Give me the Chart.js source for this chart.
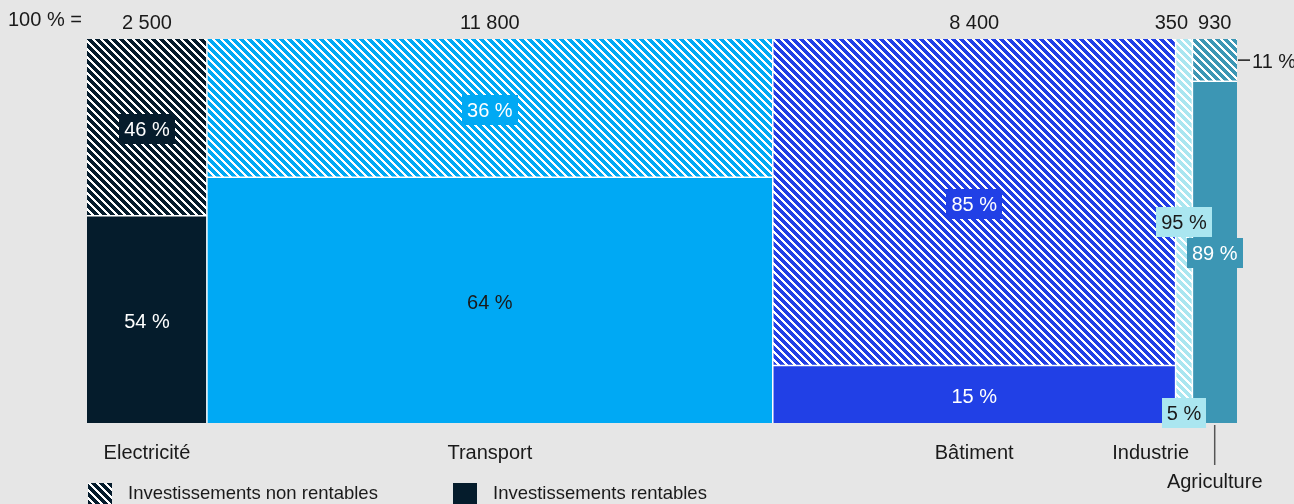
<!DOCTYPE html>
<html lang="fr">
<head>
<meta charset="utf-8">
<title>Investissements par secteur</title>
<script src="https://cdn.jsdelivr.net/npm/chart.js@4/dist/chart.umd.min.js"></script>
<style>
  body { margin: 0; background: #e6e6e6; }
  canvas { display: block; }
</style>
</head>
<body>
<canvas id="mekko" width="1294" height="504"></canvas>
<script>
// sectors, column widths (100 % = total) and split between profitable / non profitable
const sectors = ['Electricité', 'Transport', 'Bâtiment', 'Industrie', 'Agriculture'];
const totals = [2500, 11800, 8400, 350, 930];
const totalLabels = ['2 500', '11 800', '8 400', '350', '930'];
const rentables = [54, 64, 15, 5, 89];
const nonRentables = [46, 36, 85, 95, 11];
const colors = ['#051c2c', '#00a9f4', '#2140e6', '#aae6f0', '#3c96b4'];
const legendLabels = ['Investissements non rentables', 'Investissements rentables'];

const FONT = '20px "Liberation Sans", Arial, sans-serif';
const LEGEND_FONT = '18.5px "Liberation Sans", Arial, sans-serif';
const INK = '#1a1a1a';

const canvas = document.getElementById('mekko');
const ctx = canvas.getContext('2d');

// diagonal "\" stripes on white
function stripes(color) {
    const c = document.createElement('canvas');
    c.width = 8;
    c.height = 8;
    const g = c.getContext('2d');
    g.fillStyle = '#fff';
    g.fillRect(0, 0, 8, 8);
    g.fillStyle = color;
    for (let y = 0; y < 8; y++) {
        for (let x = 0; x < 8; x++) {
            if ((((x - y) % 8) + 8) % 8 < 5) g.fillRect(x, y, 1, 1);
        }
    }
    return ctx.createPattern(c, 'repeat');
}

// column start positions on the x scale
const starts = [];
let acc = 0;
totals.forEach(t => { starts.push(acc); acc += t; });
const grandTotal = acc;

function separator(points) {
    return {
        data: points,
        borderColor: '#ffffff',
        borderWidth: 1.5,
        fill: false
    };
}

const datasets = [];
// white separators first so they are drawn on top
for (let i = 1; i < totals.length; i++) {
    datasets.push(separator([{x: starts[i], y: 0}, {x: starts[i], y: 100}]));
}
sectors.forEach((s, i) => {
    const end = starts[i] + totals[i];
    datasets.push(separator([{x: starts[i], y: rentables[i]}, {x: end, y: rentables[i]}]));
});
sectors.forEach((s, i) => {
    const end = starts[i] + totals[i];
    datasets.push({
        label: s + ' rentables',
        data: [{x: starts[i], y: rentables[i]}, {x: end, y: rentables[i]}],
        fill: {value: 0},
        backgroundColor: colors[i],
        borderColor: 'transparent',
        borderWidth: 0
    });
    datasets.push({
        label: s + ' non rentables',
        data: [{x: starts[i], y: rentables[i] + nonRentables[i]}, {x: end, y: rentables[i] + nonRentables[i]}],
        fill: {value: rentables[i]},
        backgroundColor: stripes(colors[i]),
        borderColor: 'transparent',
        borderWidth: 0
    });
});

function textBox(c, text, x, y, bg, fg) {
    c.font = FONT;
    c.textAlign = 'center';
    c.textBaseline = 'middle';
    const w = c.measureText(text).width + 10;
    if (bg) {
        c.fillStyle = bg;
        c.fillRect(Math.round(x - w / 2), Math.round(y - 15), Math.round(w), 30);
    }
    c.fillStyle = fg;
    c.fillText(text, x, y + 1);
}

const background = {
    id: 'background',
    beforeDraw(chart) {
        const c = chart.ctx;
        c.save();
        c.fillStyle = '#e6e6e6';
        c.fillRect(0, 0, chart.width, chart.height);
        c.restore();
    }
};

const annotations = {
    id: 'annotations',
    afterDatasetsDraw(chart) {
        const c = chart.ctx;
        const xs = chart.scales.x;
        const ys = chart.scales.y;
        const area = chart.chartArea;
        c.save();
        c.font = FONT;
        c.textBaseline = 'middle';

        c.fillStyle = INK;
        c.textAlign = 'left';
        c.fillText('100 % =', 8, 20);

        sectors.forEach((s, i) => {
            const cx = xs.getPixelForValue(starts[i] + totals[i] / 2);
            const narrow = totals[i] / grandTotal < 0.02;
            const yTop = ys.getPixelForValue(rentables[i] + nonRentables[i] / 2);
            const yBottom = ys.getPixelForValue(rentables[i] / 2);
            const top = nonRentables[i] + ' %';
            const bottom = rentables[i] + ' %';

            // column totals
            c.fillStyle = INK;
            c.textBaseline = 'middle';
            if (narrow) {
                c.textAlign = 'right';
                c.fillText(totalLabels[i], cx + 4, area.top - 16);
            } else {
                c.textAlign = 'center';
                c.fillText(totalLabels[i], cx, area.top - 16);
            }

            // sector names
            if (s === 'Agriculture') {
                c.strokeStyle = '#555';
                c.lineWidth = 1.5;
                c.beginPath();
                c.moveTo(cx, area.bottom + 2);
                c.lineTo(cx, area.bottom + 42);
                c.stroke();
                c.textAlign = 'center';
                c.fillText(s, cx, area.bottom + 59);
            } else if (narrow) {
                c.textAlign = 'right';
                c.fillText(s, cx + 5, area.bottom + 30);
            } else {
                c.textAlign = 'center';
                c.fillText(s, cx, area.bottom + 30);
            }

            // segment values
            if (i === 4) {
                const right = xs.getPixelForValue(starts[i] + totals[i]);
                c.strokeStyle = INK;
                c.lineWidth = 1.5;
                c.beginPath();
                c.moveTo(right + 1, yTop);
                c.lineTo(right + 13, yTop);
                c.stroke();
                c.fillStyle = INK;
                c.textAlign = 'left';
                c.fillText(top, right + 15, yTop + 2);
                textBox(c, bottom, cx, yBottom + 1, colors[i], '#ffffff');
            } else if (i === 3) {
                textBox(c, top, cx, yTop + 1, colors[i], INK);
                textBox(c, bottom, cx, yBottom, colors[i], INK);
            } else {
                textBox(c, top, cx, yTop + 2, colors[i], '#ffffff');
                textBox(c, bottom, cx, yBottom + 2, null, i === 1 ? INK : '#ffffff');
            }
        });

        // legend
        const swatches = [stripes(colors[0]), colors[0]];
        const legendX = [88, 453];
        c.font = LEGEND_FONT;
        legendLabels.forEach((label, k) => {
            c.fillStyle = swatches[k];
            c.fillRect(legendX[k], 483, 24, 22);
            c.fillStyle = INK;
            c.textAlign = 'left';
            c.textBaseline = 'middle';
            c.fillText(label, legendX[k] + 40, 494);
        });
        c.restore();
    }
};

new Chart(ctx, {
    type: 'line',
    data: { datasets: datasets },
    options: {
        responsive: false,
        animation: false,
        devicePixelRatio: 1,
        layout: { padding: { left: 87, right: 57, top: 39, bottom: 81 } },
        elements: {
            point: { radius: 0, hoverRadius: 0 },
            line: { tension: 0 }
        },
        scales: {
            x: { type: 'linear', min: 0, max: grandTotal, display: false },
            y: { type: 'linear', min: 0, max: 100, display: false }
        },
        plugins: {
            legend: { display: false },
            tooltip: { enabled: false }
        },
        events: []
    },
    plugins: [background, annotations]
});
</script>
</body>
</html>
